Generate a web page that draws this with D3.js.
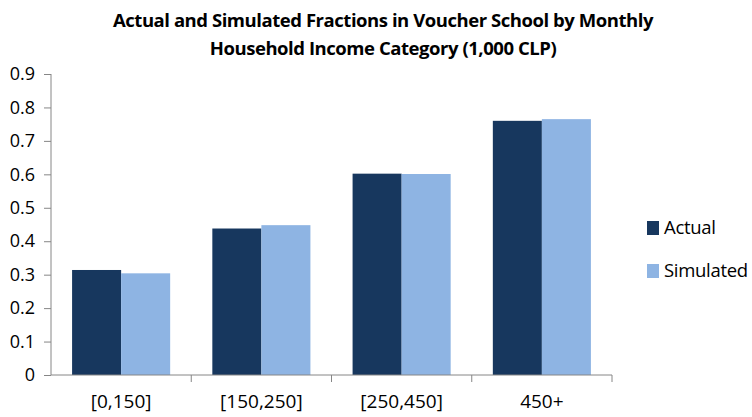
<!DOCTYPE html>
<html>
<head>
<meta charset="utf-8">
<script src="https://cdn.jsdelivr.net/npm/d3@7"></script>
<style>
  body { margin: 0; background: #fff; }
  text { font-family: "Open Sans", sans-serif; fill: #000; }
</style>
</head>
<body>
<div class="chart"></div>
<script>
// data
var categories = ["[0,150]", "[150,250]", "[250,450]", "450+"];
var seriesNames = ["Actual", "Simulated"];
var actual = [0.314, 0.438, 0.602, 0.760];
var simulated = [0.304, 0.448, 0.601, 0.765];
var yTicks = [0, 0.1, 0.2, 0.3, 0.4, 0.5, 0.6, 0.7, 0.8, 0.9];
var titleLines = ["Actual and Simulated Fractions in Voucher School by Monthly",
                  "Household Income Category (1,000 CLP)"];

var colors = ["#17375E", "#8EB4E3"];
var width = 752, height = 417;
var margin = { top: 74, left: 51, right: 140, bottom: 42 };

var svg = d3.select(".chart").append("svg")
  .attr("width", width)
  .attr("height", height);

var x = d3.scaleBand()
  .domain(categories)
  .range([margin.left, width - margin.right])
  .paddingInner(0)
  .paddingOuter(0);

var xInner = d3.scaleBand()
  .domain(seriesNames)
  .range([0, x.bandwidth()])
  .paddingOuter(0.43);

var y = d3.scaleLinear()
  .domain([0, 0.9])
  .range([height - margin.bottom, margin.top]);

// bars
var rows = categories.map((c, i) => ({ cat: c, vals: [actual[i], simulated[i]] }));
var groups = svg.selectAll(".grp")
  .data(rows)
  .enter().append("g")
  .attr("class", "grp")
  .attr("transform", d => "translate(" + x(d.cat) + ",0)");

groups.selectAll("rect")
  .data(d => d.vals.map((v, j) => ({ name: seriesNames[j], v: v, j: j })))
  .enter().append("rect")
  .attr("x", d => xInner(d.name))
  .attr("y", d => y(d.v))
  .attr("width", xInner.bandwidth())
  .attr("height", d => y(0) - y(d.v))
  .attr("fill", d => colors[d.j]);

// y axis
var yAxis = svg.append("g")
  .attr("transform", "translate(" + margin.left + ",0)")
  .call(d3.axisLeft(y).tickValues(yTicks).tickSize(7).tickPadding(9)
    .tickFormat(d => d === 0 ? "0" : d3.format(".1f")(d)));
yAxis.selectAll("line").attr("stroke", "#868686");
yAxis.select(".domain").attr("stroke", "#868686").attr("d", "M0," + y(0.9) + "V" + y(0));
yAxis.selectAll("text").style("font-size", "18px")
  .style("font-family", "'Open Sans', sans-serif")
  .attr("fill", "#000");

// x axis
var xAxis = svg.append("g")
  .attr("transform", "translate(0," + y(0) + ")")
  .call(d3.axisBottom(x).tickSize(0).tickPadding(20));
xAxis.select(".domain").attr("stroke", "#868686")
  .attr("d", "M" + margin.left + ",0H" + (width - margin.right));
xAxis.selectAll("text").style("font-size", "19px")
  .style("font-family", "'Open Sans', sans-serif")
  .attr("fill", "#000");
// category divider ticks
var bounds = categories.map(c => x(c) + x.bandwidth());
xAxis.selectAll(".divider")
  .data(bounds)
  .enter().append("line")
  .attr("class", "divider")
  .attr("x1", d => d).attr("x2", d => d)
  .attr("y1", 0).attr("y2", 7)
  .attr("stroke", "#868686");

// title
svg.selectAll(".title")
  .data(titleLines)
  .enter().append("text")
  .attr("class", "title")
  .attr("x", 383)
  .attr("y", (d, i) => 27 + i * 28)
  .attr("text-anchor", "middle")
  .style("font-size", "18.5px")
  .style("letter-spacing", "-0.45px")
  .style("font-weight", "bold")
  .text(d => d);

// legend
var legend = svg.selectAll(".legend")
  .data(seriesNames)
  .enter().append("g")
  .attr("class", "legend")
  .attr("transform", (d, i) => "translate(647," + (221 + i * 43) + ")");

legend.append("rect")
  .attr("width", 12)
  .attr("height", 14)
  .attr("fill", (d, i) => colors[i]);

legend.append("text")
  .attr("x", 17)
  .attr("y", 7)
  .attr("dy", ".35em")
  .style("font-size", "18.5px")
  .style("letter-spacing", "-0.3px")
  .text(d => d);
</script>
</body>
</html>
